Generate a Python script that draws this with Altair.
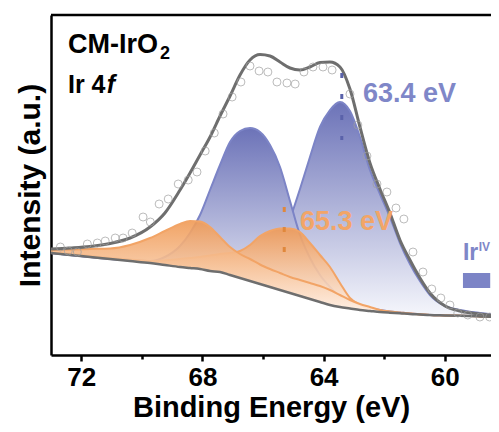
import altair as alt
import pandas as pd

# ---- data ----
energy = [73.00, 72.37, 71.71, 71.05, 70.39, 69.73, 69.24, 68.74, 68.41, 68.08,
          67.75, 67.42, 67.09, 66.76, 66.43, 66.10, 65.77, 65.44, 65.11, 64.78,
          64.45, 64.12, 63.79, 63.46, 63.13, 62.80, 62.47, 62.14, 61.81, 61.48,
          61.15, 60.82, 60.49, 59.99, 59.50, 58.84, 58.21]
background = [102, 100, 98, 96, 94, 92, 90, 88, 87, 86, 84, 83, 80, 77, 74, 71, 68, 65, 62, 59,
              56, 53, 50, 48, 46.5, 45, 44, 43, 42.3, 41.7, 41, 40.5, 40, 39.6, 39.2, 38.6, 38]
orange_left = [105, 105.5, 106, 106.5, 110, 117, 124, 131, 134, 133.5, 128, 118, 108, 101, 96,
               90.5, 86, 82, 78, 75, 72, 69, 65, 60, 55, 51, 48, 45, 43.5, 42.5, 41.5, 40.7, 40,
               39.6, 39.2, 38.6, 38]
orange_right = [102, 101, 99, 97, 95.5, 94, 94.5, 96, 97, 98, 99.5, 101, 102, 104, 110, 119, 124,
                126.5, 126.5, 123, 112, 100, 88, 72, 57, 50, 46.5, 44.5, 43, 42, 41.3, 40.6, 40,
                39.6, 39.2, 38.6, 38]
blue_left = [102, 100, 98, 96.5, 95, 94, 98, 109, 122, 140, 165, 190, 213, 224, 227, 223, 210,
             188, 154, 120, 97, 80, 68, 58, 53, 50, 47, 45, 43.5, 42.5, 41.5, 40.7, 40, 39.6,
             39.2, 38.6, 38]
blue_right = [102, 100, 98, 96, 94.5, 93, 91, 89, 87.5, 86.5, 85.5, 84, 82, 78.5, 78, 83, 93, 110,
              136, 166, 198, 228, 245, 253, 244, 218, 185, 161, 138, 112, 91, 74, 60, 49, 45,
              42, 40]
envelope = [106, 107, 108.5, 111.5, 117, 128, 142, 165, 182, 200, 218, 239, 259, 280, 295, 300.5,
            299, 293, 287, 285, 288, 292.5, 293, 288, 266, 228, 192, 166, 142, 115, 95, 77, 62,
            49, 44, 41, 39]

raw_energy = [72.69, 72.43, 72.13, 71.80, 71.47, 71.21, 70.88, 70.62, 70.32, 69.96, 69.72, 69.43,
              69.13, 68.80, 68.47, 68.18, 67.91, 67.61, 67.32, 67.02, 66.73, 66.43, 66.13, 65.84,
              65.54, 65.21, 64.94, 64.65, 64.35, 64.02, 63.72, 63.13, 62.87, 62.57, 62.24, 61.91,
              61.61, 61.35, 61.05, 60.72, 60.43, 60.13, 59.83, 59.57, 59.24, 58.84, 58.52]
raw_intensity = [108, 104, 103, 111, 112, 114, 117, 117, 122, 138, 133, 151, 156, 171, 175, 183,
                 204, 222, 241, 258, 273, 289, 284, 283, 273, 272, 271, 283, 288, 288, 285, 261,
                 230, 199, 171, 163, 147, 136, 103, 83, 66, 57, 50, 42, 40, 38, 38]

x_ticks = [72, 70, 68, 66, 64, 62, 60]
x_domain = [58.474, 73.0]
y_domain = [0, 340]

peak_blue = 63.4
peak_orange = 65.3

FONT = "Liberation Sans"
BLUE_LINE = "#7c84c6"
BLUE_TEXT = "#7f87c8"
BLUE_DASH = "#5a62aa"
ORANGE_LINE = "#f2a466"
ORANGE_TEXT = "#f2a568"
ORANGE_DASH = "#e0883c"
GRAY = "#6e6e6e"

df = pd.DataFrame({"E": energy, "bg": background, "ol": orange_left, "or": orange_right,
                   "bl": blue_left, "br": blue_right, "env": envelope})
raw = pd.DataFrame({"E": raw_energy, "I": raw_intensity})

xscale = alt.Scale(domain=x_domain, reverse=True, nice=False, zero=False)
yscale = alt.Scale(domain=y_domain, nice=False, zero=False)

xaxis = alt.Axis(values=x_ticks, title="Binding Energy (eV)",
                 labelExpr="datum.value % 4 == 0 ? datum.label : ''",
                 tickSize={"condition": {"test": "datum.value % 4 == 0", "value": 6}, "value": 4},
                 labelFont=FONT, labelFontSize=26, labelFontWeight="bold", labelColor="black",
                 titleFont=FONT, titleFontSize=29, titleFontWeight="bold", titleColor="black",
                 domainColor="black", domainWidth=2.5, tickColor="black", tickWidth=2.5,
                 grid=False, labelPadding=3, titlePadding=3, labelOverlap=False, labelFlush=False)
yaxis = alt.Axis(title="Intensity (a.u.)", labels=False, ticks=False, grid=False,
                 titleFont=FONT, titleFontSize=30, titleFontWeight="bold", titleColor="black",
                 domainColor="black", domainWidth=2.5, titlePadding=6)

blue_grad = alt.Gradient(gradient="linear", x1=0, x2=0, y1=0, y2=1,
                         stops=[alt.GradientStop(offset=0, color="#6c73b8"),
                                alt.GradientStop(offset=1, color="#f6f7fc")])
orange_grad = alt.Gradient(gradient="linear", x1=0, x2=0, y1=0, y2=1,
                           stops=[alt.GradientStop(offset=0, color="#f09a55"),
                                  alt.GradientStop(offset=1, color="#fff4ec")])

base = alt.Chart(df)


def component(col, grad, line_color, opacity=1.0):
    area = base.mark_area(fill=grad, interpolate="monotone", fillOpacity=opacity).encode(
        x=alt.X("E:Q", scale=xscale, axis=xaxis),
        y=alt.Y(f"{col}:Q", scale=yscale, axis=yaxis),
        y2="bg:Q")
    line = base.mark_line(color=line_color, strokeWidth=2, interpolate="monotone").encode(
        x="E:Q", y=f"{col}:Q")
    return [area, line]


layers = []
layers += component("br", blue_grad, BLUE_LINE)
layers += component("bl", blue_grad, BLUE_LINE)
layers += component("or", orange_grad, ORANGE_LINE, 0.9)
layers += component("ol", orange_grad, ORANGE_LINE, 0.9)

bg_line = base.mark_line(color=GRAY, strokeWidth=2.5, interpolate="monotone").encode(
    x="E:Q", y="bg:Q")
env_line = base.mark_line(color=GRAY, strokeWidth=3, interpolate="monotone").encode(
    x="E:Q", y="env:Q")
points = alt.Chart(raw).mark_point(shape="circle", filled=False, color="#a0a0a0",
                                   strokeWidth=1, size=64).encode(x="E:Q", y="I:Q")

dash_blue = alt.Chart(pd.DataFrame({"x": [peak_blue], "y": [282], "y2": [215]})).mark_rule(
    color=BLUE_DASH, strokeWidth=3, strokeDash=[5, 16]).encode(x="x:Q", y="y:Q", y2="y2:Q")
dash_orange = alt.Chart(pd.DataFrame({"x": [peak_orange], "y": [148], "y2": [103]})).mark_rule(
    color=ORANGE_DASH, strokeWidth=3, strokeDash=[5, 15]).encode(x="x:Q", y="y:Q", y2="y2:Q")


def label(x, y, text, size, color, style="normal"):
    return alt.Chart(pd.DataFrame({"x": [x], "y": [y], "t": [text]})).mark_text(
        align="left", baseline="alphabetic", font=FONT, fontSize=size, fontWeight="bold",
        fontStyle=style, color=color).encode(x="x:Q", y="y:Q", text="t:N")


texts = [
    label(62.70, 253, "63.4 eV", 27, BLUE_TEXT),
    label(64.78, 125, "65.3 eV", 27, ORANGE_TEXT),
    label(72.44, 302, "CM-IrO", 27, "black"),
    label(69.40, 296, "2", 18, "black"),
    label(72.44, 262, "Ir 4", 25, "black"),
    label(71.16, 262, "f", 25, "black", "italic"),
    label(59.40, 95, "Ir", 23, BLUE_TEXT),
    label(58.88, 104, "IV", 12, BLUE_TEXT),
]

legend_rect = alt.Chart(pd.DataFrame({"x": [59.40], "x2": [58.50], "y": [82], "y2": [67]})).mark_rect(
    color=BLUE_LINE).encode(x="x:Q", x2="x2:Q", y="y:Q", y2="y2:Q")

top_border = alt.Chart(pd.DataFrame({"x": [73.0], "x2": [58.474], "y": [340]})).mark_rule(
    color="black", strokeWidth=2.5).encode(x="x:Q", x2="x2:Q", y="y:Q")

chart = alt.layer(*layers, bg_line, env_line, points, dash_blue, dash_orange, *texts,
                  legend_rect, top_border).properties(
    width=440, height=340,
    padding={"left": 43, "top": 7, "right": 0, "bottom": 69},
    autosize=alt.AutoSizeParams(type="none"),
).configure_view(stroke=None)

chart.save("out.html", embed_options={"renderer": "svg", "actions": False})
